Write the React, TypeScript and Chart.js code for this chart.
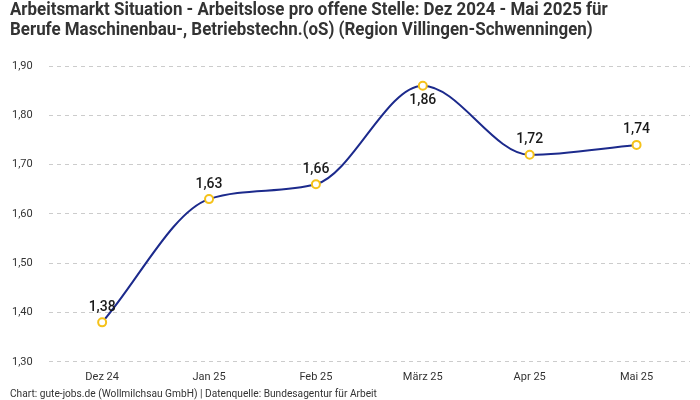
import React, { useEffect, useRef } from "react";
import { Chart, registerables } from "chart.js";

Chart.register(...registerables);

const categories = ["Dez 24", "Jan 25", "Feb 25", "März 25", "Apr 25", "Mai 25"];
const values = [1.38, 1.63, 1.66, 1.86, 1.72, 1.74];
const labelBelow = [false, false, false, true, false, false];
const titleLines = [
  "Arbeitsmarkt Situation - Arbeitslose pro offene Stelle: Dez 2024 - Mai 2025 für",
  "Berufe Maschinenbau-, Betriebstechn.(oS) (Region Villingen-Schwenningen)",
];
const footerText = "Chart: gute-jobs.de (Wollmilchsau GmbH) | Datenquelle: Bundesagentur für Arbeit";

const fmt = (v: number) => v.toFixed(2).replace(".", ",");

const labelPlugin = {
  id: "valueLabels",
  afterDatasetsDraw(chart: any) {
    const ctx = chart.ctx;
    const meta = chart.getDatasetMeta(0);
    ctx.save();
    ctx.font = "500 14px Roboto, sans-serif";
    ctx.fillStyle = "#1a1a1a";
    ctx.textAlign = "center";
    ctx.textBaseline = "middle";
    meta.data.forEach((pt: any, i: number) => {
      const dy = labelBelow[i] ? 15 : -15;
      ctx.fillText(fmt(values[i]), pt.x, pt.y + dy);
    });
    ctx.restore();
  },
};

export default function App() {
  const ref = useRef<HTMLCanvasElement>(null);
  useEffect(() => {
    if (!ref.current) return;
    const chart = new Chart(ref.current, {
      type: "line",
      data: {
        labels: categories,
        datasets: [
          {
            data: values,
            borderColor: "#1c2a8c",
            borderWidth: 2,
            cubicInterpolationMode: "monotone",
            pointRadius: 4,
            pointBorderWidth: 2,
            pointBorderColor: "#f5c21a",
            pointBackgroundColor: "#ffffff",
            fill: false,
          },
        ],
      },
      options: {
        animation: false,
        responsive: true,
        maintainAspectRatio: false,
        layout: { padding: { left: -4, right: 10, top: 66, bottom: 7 } },
        plugins: {
          legend: { display: false },
          tooltip: { enabled: false },
        },
        scales: {
          x: {
            offset: true,
            grid: { display: false, drawTicks: false },
            border: { display: false },
            ticks: {
              color: "#333",
              font: { family: "Roboto, sans-serif", size: 11 },
              padding: 9,
            },
          },
          y: {
            min: 1.3,
            max: 1.9,
            grid: { color: "#cccccc", drawTicks: false },
            border: { display: false, dash: [4, 4] },
            ticks: {
              stepSize: 0.1,
              color: "#333",
              padding: 16,
              font: { family: "Roboto, sans-serif", size: 11 },
              callback: (v: any) => fmt(Number(v)),
            },
          },
        },
      },
      plugins: [labelPlugin],
    });
    return () => chart.destroy();
  }, []);
  return (
    <div style={{ position: "absolute", left: 0, top: 0, width: 700, height: 400, background: "#fff" }}>
      <canvas ref={ref} />
      <div
        style={{
          position: "absolute",
          left: 10,
          top: -1,
          fontFamily: "Roboto, sans-serif",
          fontWeight: 700,
          fontSize: 18,
          lineHeight: "20px",
          color: "#333",
          whiteSpace: "nowrap",
          transform: "scaleX(0.94)",
          transformOrigin: "left top",
        }}
      >
        {titleLines.map((t) => (
          <div key={t}>{t}</div>
        ))}
      </div>
      <div
        style={{
          position: "absolute",
          left: 10,
          top: 387,
          fontFamily: "Roboto, sans-serif",
          fontSize: 11,
          lineHeight: "13px",
          color: "#333",
          whiteSpace: "nowrap",
          transform: "scaleX(0.925)",
          transformOrigin: "left top",
        }}
      >
        {footerText}
      </div>
    </div>
  );
}
